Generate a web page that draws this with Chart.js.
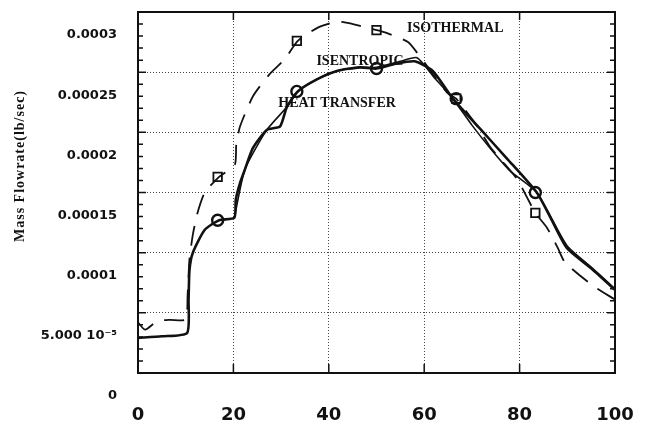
<!DOCTYPE html>
<html>
<head>
<meta charset="utf-8">
<script src="https://cdn.jsdelivr.net/npm/chart.js@4.4.1/dist/chart.umd.min.js"></script>
<style>
  html, body { margin: 0; padding: 0; background: #fff; }
  #wrap { width: 652px; height: 427px; }
</style>
</head>
<body>
<div id="wrap"><canvas id="flowChart" width="652" height="427"></canvas></div>
<script>
// values, y in units of 1e-5 lb/sec
const HEAT_X = [0, 5, 10.3, 10.6, 10.8, 11.5, 14.0, 17.0, 20.2, 20.5, 21.4, 22.4, 24.1, 27.0, 29.8, 31.2, 33.5, 37.5, 41.7, 46.5, 50, 54, 58, 61.8, 66, 71.7, 77.4, 83.6, 86.5, 89.9, 95, 100];
const HEAT_Y = [2.92, 3.05, 3.33, 6.1, 8.6, 10.0, 11.9, 12.7, 12.9, 14.4, 15.8, 16.9, 18.7, 20.2, 20.5, 22.1, 23.4, 24.4, 25.1, 25.4, 25.3, 25.7, 25.9, 25.1, 22.8, 20.3, 17.8, 15.0, 12.9, 10.4, 8.7, 6.9];

const ISEN_X = [20.2, 22.4, 27.0, 31.2, 33.5, 37.5, 41.7, 46.5, 50, 55, 58.5, 62, 66, 70, 74, 78, 83.6, 89.9, 95, 100];
const ISEN_Y = [12.9, 16.9, 20.2, 22.1, 23.4, 24.4, 25.1, 25.4, 25.4, 25.9, 26.2, 24.6, 22.8, 20.6, 18.6, 16.8, 15.0, 10.6, 8.8, 7.0];

const ISO_X = [0, 1.5, 4.0, 6.7, 10.0, 10.4, 10.8, 11.5, 12.4, 14.0, 17.0, 20.3, 20.6, 21.4, 24.1, 27.5, 30.8, 33.5, 37.7, 41.7, 45, 50, 51.8, 56.6, 59.1, 64.8, 66.7, 71.1, 73.8, 75.9, 79.5, 83.3, 85.7, 88, 89.5, 95.2, 100];
const ISO_Y = [4.2, 3.6, 4.3, 4.42, 4.45, 6.5, 9.5, 11.5, 13.2, 15.0, 16.3, 17.3, 19.0, 20.5, 23.0, 24.8, 26.1, 27.6, 28.7, 29.2, 29.0, 28.5, 28.3, 27.5, 26.3, 23.3, 22.8, 20.5, 18.8, 17.8, 16.1, 13.3, 12.1, 10.4, 9.2, 7.3, 6.1];

const MARK_X = [16.7, 33.3, 50, 66.7, 83.3];
const SQUARE_Y = [16.3, 27.6, 28.5, 22.8, 13.3];
const CIRCLE_Y = [12.7, 23.4, 25.3, 22.8, 15.0];

const Y_TICK_LABELS = ['0', '5.000 10\u207B\u2075', '0.0001', '0.00015', '0.0002', '0.00025', '0.0003'];
const X_TICK_LABELS = ['0', '20', '40', '60', '80', '100'];

const CURVE_LABELS = ['ISOTHERMAL', 'ISENTROPIC', 'HEAT TRANSFER'];
const CURVE_LABEL_X = [56.4, 37.4, 29.4];
const CURVE_LABEL_Y = [28.6, 25.9, 22.4];

const Y_TITLE = 'Mass Flowrate(lb/sec)';

const INK = '#111';
const toPts = (xs, ys) => xs.map((x, i) => ({x: x, y: ys[i] * 1e-5}));

const frame = {
    id: 'frame',
    afterDraw(chart) {
        const ctx = chart.ctx;
        const a = chart.chartArea;
        const xs = chart.scales.x;
        const ys = chart.scales.y;
        ctx.save();
        ctx.strokeStyle = INK;
        ctx.lineWidth = 2;
        ctx.strokeRect(a.left, a.top, a.right - a.left, a.bottom - a.top);

        // minor ticks pointing inwards on both y edges
        ctx.lineWidth = 1.5;
        for (let k = 0; k <= 30; k++) {
            const py = ys.getPixelForValue(k * 1e-5);
            const len = k % 5 === 0 ? 8 : 5;
            ctx.beginPath();
            ctx.moveTo(a.left, py); ctx.lineTo(a.left + len, py);
            ctx.moveTo(a.right, py); ctx.lineTo(a.right - len, py);
            ctx.stroke();
        }
        for (let k = 1; k < 5; k++) {
            const px = xs.getPixelForValue(k * 20);
            ctx.beginPath();
            ctx.moveTo(px, a.bottom); ctx.lineTo(px, a.bottom - 9);
            ctx.moveTo(px, a.top); ctx.lineTo(px, a.top + 8);
            ctx.stroke();
        }

        // curve names
        ctx.fillStyle = INK;
        ctx.font = 'bold 14px "Liberation Serif", serif';
        ctx.textBaseline = 'middle';
        ctx.textAlign = 'left';
        CURVE_LABELS.forEach((t, i) => {
            ctx.fillText(t, xs.getPixelForValue(CURVE_LABEL_X[i]), ys.getPixelForValue(CURVE_LABEL_Y[i] * 1e-5));
        });

        // y axis title
        ctx.translate(20, 166);
        ctx.rotate(-Math.PI / 2);
        ctx.textAlign = 'center';
        ctx.font = 'bold 14px "Liberation Serif", serif';
        ctx.letterSpacing = '1px';
        ctx.fillText(Y_TITLE, 0, 0);
        ctx.restore();
    }
};

new Chart(document.getElementById('flowChart'), {
    type: 'line',
    data: {
        datasets: [
            {
                label: 'Heat transfer',
                data: toPts(HEAT_X, HEAT_Y),
                borderColor: INK,
                borderWidth: 2.6,
                pointRadius: 0,
                tension: 0.2
            },
            {
                label: 'Isentropic',
                data: toPts(ISEN_X, ISEN_Y),
                borderColor: INK,
                borderWidth: 1.6,
                pointRadius: 0,
                tension: 0.2
            },
            {
                label: 'Isothermal',
                data: toPts(ISO_X, ISO_Y),
                borderColor: INK,
                borderWidth: 1.8,
                borderDash: [20, 12],
                pointRadius: 0,
                tension: 0.2
            },
            {
                label: 'Isothermal points',
                data: toPts(MARK_X, SQUARE_Y),
                showLine: false,
                pointStyle: 'rect',
                pointRadius: 6,
                pointBorderWidth: 1.8,
                pointBorderColor: INK,
                pointBackgroundColor: '#fff'
            },
            {
                label: 'Solid points',
                data: toPts(MARK_X, CIRCLE_Y),
                showLine: false,
                pointStyle: 'circle',
                pointRadius: 5.5,
                pointBorderWidth: 2.4,
                pointBorderColor: INK,
                pointBackgroundColor: '#fff'
            }
        ]
    },
    options: {
        responsive: false,
        devicePixelRatio: 1,
        animation: false,
        layout: {padding: {top: 12, right: 37, left: 0, bottom: 0}},
        plugins: {
            legend: {display: false},
            tooltip: {enabled: false}
        },
        scales: {
            x: {
                type: 'linear',
                min: 0,
                max: 100,
                afterFit: (s) => { s.height = 54; s.paddingLeft = 0; s.paddingRight = 0; },
                ticks: {
                    stepSize: 20,
                    padding: 32,
                    color: INK,
                    font: {family: '"DejaVu Sans", sans-serif', size: 18, weight: 'bold'},
                    callback: (v, i) => X_TICK_LABELS[i]
                },
                grid: {color: '#444', lineWidth: 1, drawTicks: false},
                border: {display: false, dash: [1, 2]}
            },
            y: {
                type: 'linear',
                min: 0,
                max: 3e-4,
                afterFit: (s) => { s.width = 138; s.paddingTop = 0; s.paddingBottom = 0; },
                ticks: {
                    stepSize: 5e-5,
                    padding: 21,
                    labelOffset: 23,
                    color: INK,
                    font: {family: '"DejaVu Sans", sans-serif', size: 13, weight: 'bold'},
                    callback: (v, i) => Y_TICK_LABELS[i]
                },
                grid: {color: '#444', lineWidth: 1, drawTicks: false},
                border: {display: false, dash: [1, 2]}
            }
        }
    },
    plugins: [frame]
});
</script>
</body>
</html>
